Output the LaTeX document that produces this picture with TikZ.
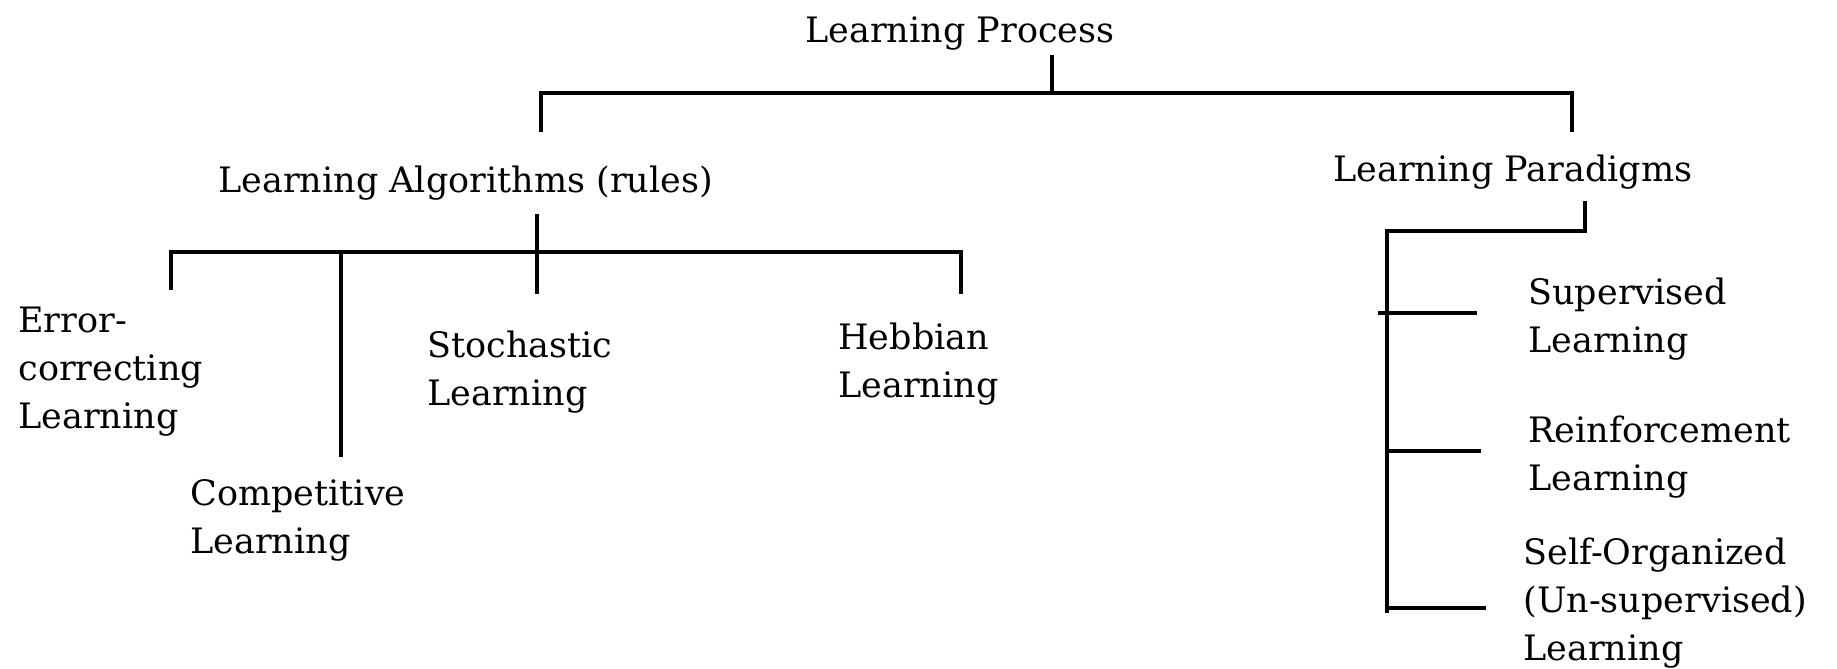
\documentclass[tikz,border=0pt]{standalone}
\usepackage{fontspec}
\setmainfont{DejaVu Serif}
\newcommand{\lpfont}{\fontsize{17.5}{24}\selectfont}
\begin{document}
\begin{tikzpicture}[x=0.5pt,y=-0.5pt,
  txt/.style={inner sep=0pt, anchor=base west, align=left, font=\lpfont},
  link/.style={line width=2.2pt, line cap=butt, line join=miter}]
\useasboundingbox[fill=white] (0,0) rectangle (1837,669);
% texts (anchor = baseline of the last line)
\node[txt] (lp)   at (805,42)  {Learning Process};
\node[txt] (la)   at (218,192) {Learning Algorithms (rules)};
\node[txt] (lpar) at (1333,181) {Learning Paradigms};
\node[txt] (err)  at (18,428)  {Error-\\correcting\\Learning};
\node[txt] (comp) at (190,553) {Competitive\\Learning};
\node[txt] (sto)  at (427,405) {Stochastic\\Learning};
\node[txt] (heb)  at (838,397) {Hebbian\\Learning};
\node[txt] (sup)  at (1528,352) {Supervised\\Learning};
\node[txt] (rein) at (1528,490) {Reinforcement\\Learning};
\node[txt] (self) at (1523,660) {Self-Organized\\(Un-supervised)\\Learning};
% junction coordinates
\coordinate (lpTop) at (1052,55);
\coordinate (lpBar) at (1052,93);
\coordinate (laL) at (541,93);
\coordinate (laE) at (541,132);
\coordinate (parR) at (1572,93);
\coordinate (parE) at (1572,132);
\coordinate (laTop) at (537,214);
\coordinate (laBar) at (537,252);
\coordinate (stoE) at (537,294);
\coordinate (errB) at (171,252);
\coordinate (errE) at (171,290);
\coordinate (hebB) at (961,252);
\coordinate (hebE) at (961,294);
\coordinate (compB) at (341,252);
\coordinate (compE) at (341,457);
\coordinate (parTop) at (1585,201);
\coordinate (parC) at (1585,231);
\coordinate (vTop) at (1387,231);
\coordinate (vBot) at (1387,613);
\coordinate (supS) at (1378,313);
\coordinate (supE) at (1477,313);
\coordinate (reiS) at (1387,451);
\coordinate (reiE) at (1481,451);
\coordinate (selS) at (1387,608);
\coordinate (selE) at (1486,608);
% connectors
\draw[link] (lpTop) -- (lpBar);
\draw[link] (laE) -- (laL) -- (parR) -- (parE);
\draw[link] (laTop) -- (stoE);
\draw[link] (errE) -- (errB) -- (hebB) -- (hebE);
\draw[link] (compB) -- (compE);
\draw[link] (parTop) -- (parC) -- (vTop) -- (vBot);
\draw[link] (supS) -- (supE);
\draw[link] (reiS) -- (reiE);
\draw[link] (selS) -- (selE);
\end{tikzpicture}
\end{document}
